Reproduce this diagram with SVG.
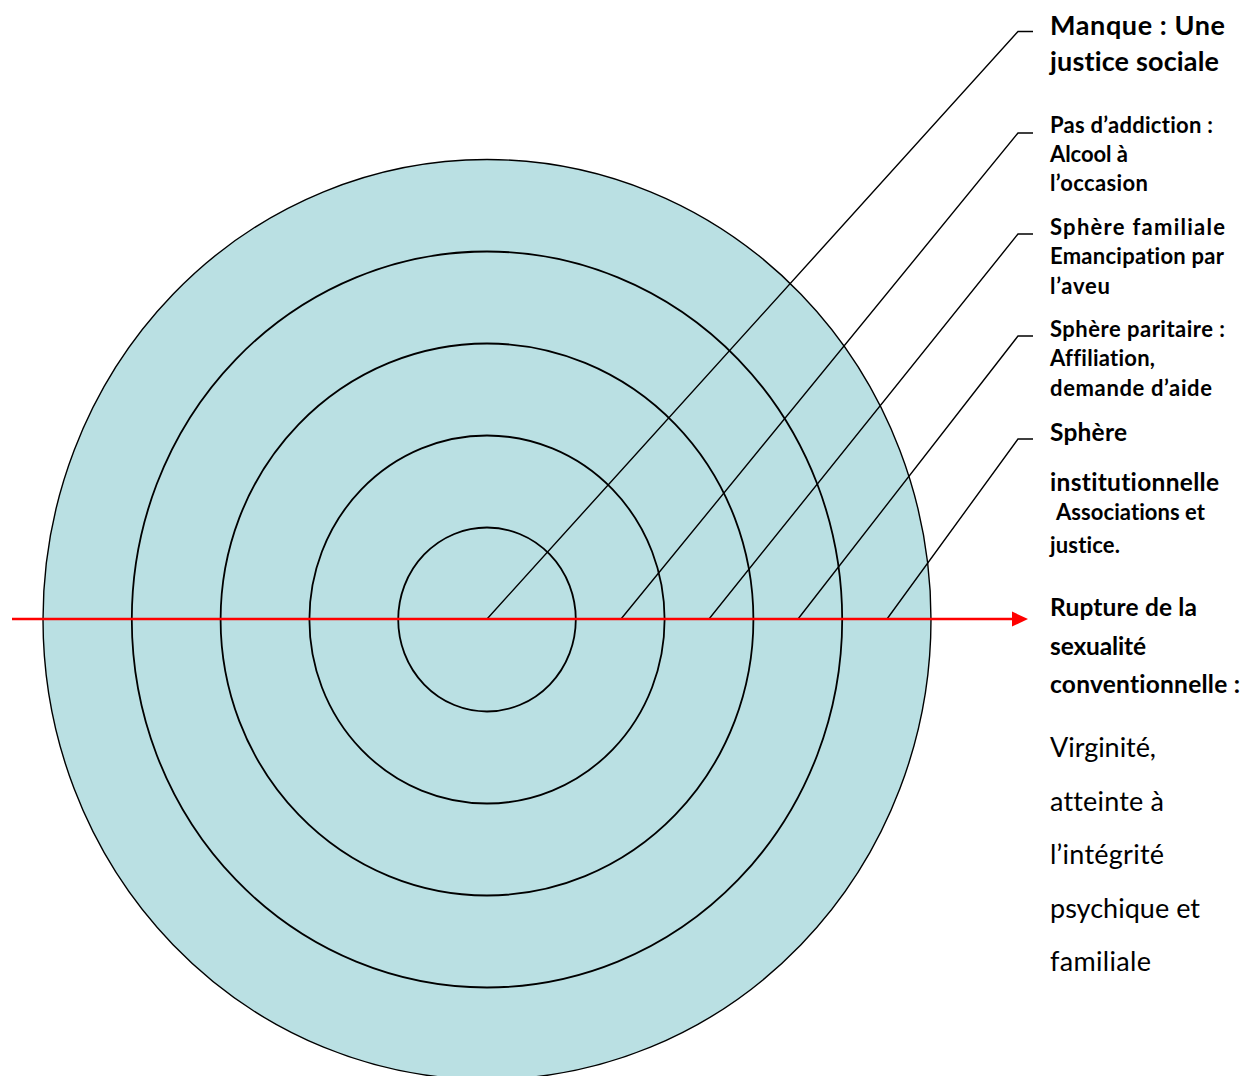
<svg xmlns="http://www.w3.org/2000/svg" width="1255" height="1076" viewBox="0 0 1255 1076">
<style>
.ring{fill:#BAE0E3;stroke:#000;stroke-width:1.8}
.ring0{fill:#BAE0E3;stroke:#000;stroke-width:1.4}
.lead{fill:none;stroke:#000;stroke-width:1.4}
.axis{stroke:#FF0000;stroke-width:2.5;fill:none}
text{font-family:Lato,"Liberation Sans",sans-serif;font-variant-ligatures:none;font-feature-settings:"liga" 0,"clig" 0;fill:#000}
.b{font-weight:bold}
.r{font-weight:normal}
.s{font-size:22px}
.m{font-size:24.5px}
.l{font-size:27px}
</style>
<rect width="1255" height="1076" fill="#fff"/>
<g id="ring5"><ellipse class="ring0" cx="487" cy="619.5" rx="444" ry="460"/></g>
<g id="ring4"><ellipse class="ring" cx="487" cy="619.5" rx="355.2" ry="368"/></g>
<g id="ring3"><ellipse class="ring" cx="487" cy="619.5" rx="266.4" ry="276"/></g>
<g id="ring2"><ellipse class="ring" cx="487" cy="619.5" rx="177.6" ry="184"/></g>
<g id="ring1"><ellipse class="ring" cx="487" cy="619.5" rx="88.8" ry="92"/></g>
<g id="connectors">
<polyline class="lead" points="487,619 1018,31.5 1033,31.5"/>
<polyline class="lead" points="621,619 1018,133 1033,133"/>
<polyline class="lead" points="709,619 1018,234 1033,234"/>
<polyline class="lead" points="798,619 1018,336 1033,336"/>
<polyline class="lead" points="887,619 1018,439 1033,439"/>
<line class="axis" x1="12" y1="619" x2="1014" y2="619"/>
<polygon points="1028,619 1012,611.5 1012,626.5" fill="#FF0000"/>
</g>
<g id="label-manque" class="b l">
<text class="b l" x="1050" y="35" textLength="175" lengthAdjust="spacing">Manque : Une</text>
<text class="b l" x="1050" y="70.5" textLength="169" lengthAdjust="spacing">justice sociale</text>
</g>
<g id="label-addiction">
<text class="b s" x="1050" y="132.5" textLength="163" lengthAdjust="spacing">Pas d’addiction :</text>
<text class="b s" x="1050" y="161.5" textLength="78" lengthAdjust="spacing">Alcool à</text>
<text class="b s" x="1050" y="191" textLength="98" lengthAdjust="spacing">l’occasion</text>
</g>
<g id="label-familiale">
<text class="b s" x="1050" y="234.5" textLength="175" lengthAdjust="spacing">Sphère  familiale</text>
<text class="b s" x="1050" y="264" textLength="174" lengthAdjust="spacing">Emancipation par</text>
<text class="b s" x="1050" y="293.5" textLength="60" lengthAdjust="spacing">l’aveu</text>
</g>
<g id="label-paritaire">
<text class="b s" x="1050" y="337" textLength="175" lengthAdjust="spacing">Sphère paritaire :</text>
<text class="b s" x="1050" y="366" textLength="105" lengthAdjust="spacing">Affiliation,</text>
<text class="b s" x="1050" y="396" textLength="162" lengthAdjust="spacing">demande d’aide</text>
</g>
<g id="label-institutionnelle">
<text class="b m" x="1050" y="441" textLength="77" lengthAdjust="spacing">Sphère</text>
<text class="b m" x="1050" y="490.5" textLength="169" lengthAdjust="spacing">institutionnelle</text>
<text class="b s" x="1056" y="519.5" textLength="149" lengthAdjust="spacing">Associations et</text>
<text class="b s" x="1050" y="553" textLength="70" lengthAdjust="spacing">justice.</text>
</g>
<g id="label-rupture">
<text class="b m" x="1050" y="616" textLength="147" lengthAdjust="spacing">Rupture de la</text>
<text class="b m" x="1050" y="654.5" textLength="96" lengthAdjust="spacing">sexualité</text>
<text class="b m" x="1050" y="693" textLength="190" lengthAdjust="spacing">conventionnelle :</text>
<text class="r l" x="1050" y="757" textLength="106" lengthAdjust="spacing">Virginité,</text>
<text class="r l" x="1050" y="810.5" textLength="114" lengthAdjust="spacing">atteinte à</text>
<text class="r l" x="1050" y="864" textLength="114" lengthAdjust="spacing">l’intégrité</text>
<text class="r l" x="1050" y="917.5" textLength="150" lengthAdjust="spacing">psychique et</text>
<text class="r l" x="1050" y="971" textLength="101" lengthAdjust="spacing">familiale</text>
</g>
</svg>
